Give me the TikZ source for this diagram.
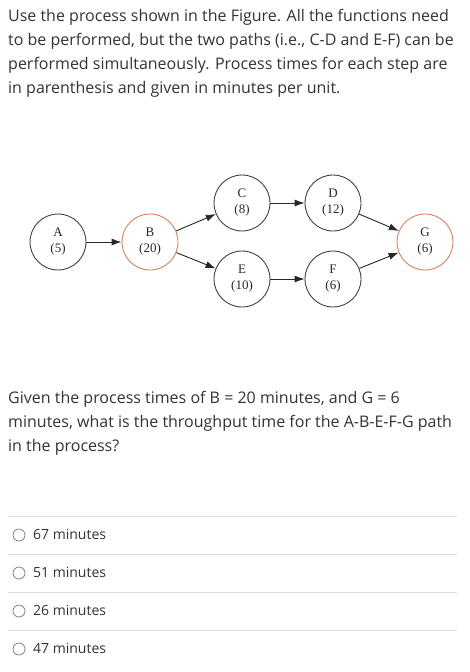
\documentclass[tikz,border=0pt]{standalone}
\usepackage{fontspec}
\setmainfont{Open Sans}
\newfontfamily\nodefont{Liberation Serif}
\usetikzlibrary{arrows.meta}
\definecolor{txt}{HTML}{333333}
\definecolor{orng}{HTML}{D9805A}
\definecolor{sep}{HTML}{DDDDDD}
\definecolor{radio}{HTML}{777777}
\tikzset{
  para/.style={anchor=base west, inner sep=0pt, text=txt, font=\fontsize{16}{24}\selectfont},
  opt/.style={anchor=base west, inner sep=0pt, text=txt, font=\fontsize{14}{18}\selectfont},
  proc/.style={circle, draw=black!75, line width=0.9pt, minimum size=56pt, inner sep=0pt, align=center, font=\nodefont\fontsize{13}{16}\selectfont, text=black!85},
  hot/.style={proc, draw=orng},
  flow/.style={-{Latex[length=10pt,width=7pt]}, line width=0.9pt, black!85},
  sepline/.style={draw=sep, line width=0.8pt},
  radiob/.style={circle, draw=radio, line width=0.7pt, minimum size=12pt, inner sep=0pt}
}
\begin{document}
\begin{tikzpicture}[x=1pt,y=-1pt]
\useasboundingbox (0,0) rectangle (470,672);
\node[para] (t1) at (8,21) {Use the process shown in the Figure. All the functions need};
\node[para] (t2) at (8,45) {to be performed, but the two paths (i.e., C-D and E-F) can be};
\node[para] (t3) at (8,69) {performed simultaneously. Process times for each step are};
\node[para] (t4) at (8,93) {in parenthesis and given in minutes per unit.};

\node[proc] (A) at (58,242) {A\\(5)};
\node[hot] (B) at (150,242) {B\\(20)};
\node[proc] (C) at (242,203) {C\\(8)};
\node[proc] (D) at (333,203) {D\\(12)};
\node[proc] (E) at (242,279) {E\\(10)};
\node[proc] (F) at (333,279) {F\\(6)};
\node[hot] (G) at (425,242) {G\\(6)};
\draw[flow] (A) -- (B);
\draw[flow] (B) -- (C);
\draw[flow] (B) -- (E);
\draw[flow] (C) -- (D);
\draw[flow] (E) -- (F);
\draw[flow] (D) -- (G);
\draw[flow] (F) -- (G);

\node[para] (q1) at (8,403) {Given the process times of B = 20 minutes, and G = 6};
\node[para] (q2) at (8,427) {minutes, what is the throughput time for the A-B-E-F-G path};
\node[para] (q3) at (8,451) {in the process?};

\coordinate (s0a) at (8,516); \coordinate (s0b) at (457,516);
\coordinate (s1a) at (8,554); \coordinate (s1b) at (457,554);
\coordinate (s2a) at (8,592); \coordinate (s2b) at (457,592);
\coordinate (s3a) at (8,630); \coordinate (s3b) at (457,630);
\draw[sepline] (s0a) -- (s0b);
\draw[sepline] (s1a) -- (s1b);
\draw[sepline] (s2a) -- (s2b);
\draw[sepline] (s3a) -- (s3b);

\node[radiob] (r1) at (19,535) {};
\node[radiob] (r2) at (19,573) {};
\node[radiob] (r3) at (19,611) {};
\node[radiob] (r4) at (19,649) {};
\node[opt] (o1) at (33,539) {67 minutes};
\node[opt] (o2) at (33,577) {51 minutes};
\node[opt] (o3) at (33,615) {26 minutes};
\node[opt] (o4) at (33,653) {47 minutes};
\end{tikzpicture}
\end{document}
